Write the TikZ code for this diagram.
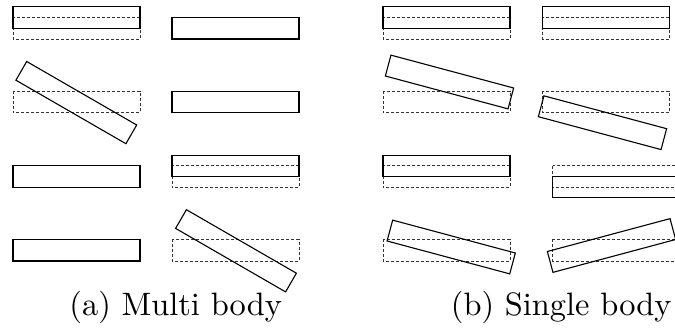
\documentclass[tikz,border=0pt]{standalone}
\usepackage{graphicx}
\begin{document}
\begin{tikzpicture}[x=1pt,y=-1pt,
  solidbox/.style={draw=black,line width=1.1pt},
  dashbox/.style={draw=black!80,line width=0.9pt,dash pattern=on 3pt off 2pt},
  caption/.style={inner sep=0pt,anchor=base}]
\useasboundingbox (0,0) rectangle (675,329);
\clip (0,0) rectangle (675,329);
\def\bw{63.5}\def\bh{10.8}
% ---------- panel (a) ----------
% row 1
\draw[dashbox,shift={(76.5,28.2)}] (-\bw,-\bh) rectangle (\bw,\bh);
\draw[solidbox,shift={(76.5,17.6)}] (-\bw,-\bh) rectangle (\bw,\bh);
\draw[solidbox,shift={(235.5,28.2)}] (-\bw,-\bh) rectangle (\bw,\bh);
% row 2
\draw[dashbox,shift={(76.5,102)}] (-\bw,-\bh) rectangle (\bw,\bh);
\draw[solidbox,shift={(76.3,102.6)},rotate=-30] (-\bw,-\bh) rectangle (\bw,\bh);
\draw[solidbox,shift={(235.5,102)}] (-\bw,-\bh) rectangle (\bw,\bh);
% row 3
\draw[solidbox,shift={(76.5,176.5)}] (-\bw,-\bh) rectangle (\bw,\bh);
\draw[dashbox,shift={(235.5,176.5)}] (-\bw,-\bh) rectangle (\bw,\bh);
\draw[solidbox,shift={(235.5,166)}] (-\bw,-\bh) rectangle (\bw,\bh);
% row 4
\draw[solidbox,shift={(76.5,250.2)}] (-\bw,-\bh) rectangle (\bw,\bh);
\draw[dashbox,shift={(235.5,250.2)}] (-\bw,-\bh) rectangle (\bw,\bh);
\draw[solidbox,shift={(236,250.8)},rotate=-30] (-\bw,-\bh) rectangle (\bw,\bh);
% ---------- panel (b) ----------
% row 1
\draw[dashbox,shift={(446.5,28.2)}] (-\bw,-\bh) rectangle (\bw,\bh);
\draw[solidbox,shift={(446.5,17.6)}] (-\bw,-\bh) rectangle (\bw,\bh);
\draw[dashbox,shift={(605.7,28.2)}] (-\bw,-\bh) rectangle (\bw,\bh);
\draw[solidbox,shift={(605.7,17.6)}] (-\bw,-\bh) rectangle (\bw,\bh);
% row 2
\draw[dashbox,shift={(446.5,102)}] (-\bw,-\bh) rectangle (\bw,\bh);
\draw[solidbox,shift={(449.5,82)},rotate=-15] (-\bw,-\bh) rectangle (\bw,\bh);
\draw[dashbox,shift={(605.7,102)}] (-\bw,-\bh) rectangle (\bw,\bh);
\draw[solidbox,shift={(602.5,122.7)},rotate=-15] (-\bw,-\bh) rectangle (\bw,\bh);
% row 3
\draw[dashbox,shift={(446.5,176.5)}] (-\bw,-\bh) rectangle (\bw,\bh);
\draw[solidbox,shift={(446.5,166)}] (-\bw,-\bh) rectangle (\bw,\bh);
\draw[dashbox,shift={(616.2,176.5)}] (-\bw,-\bh) rectangle (\bw,\bh);
\draw[solidbox,shift={(616.2,187.1)}] (-\bw,-\bh) rectangle (\bw,\bh);
% row 4
\draw[dashbox,shift={(446.5,250.2)}] (-\bw,-\bh) rectangle (\bw,\bh);
\draw[solidbox,shift={(451.2,247)},rotate=-15] (-\bw,-\bh) rectangle (\bw,\bh);
\draw[dashbox,shift={(616.2,250.2)}] (-\bw,-\bh) rectangle (\bw,\bh);
\draw[solidbox,shift={(611.5,245.5)},rotate=15] (-\bw,-\bh) rectangle (\bw,\bh);
% ---------- captions ----------
\node[caption] (capa) at (175.7,315) {\scalebox{3.24}{\fontsize{10}{12}\selectfont (a) Multi body}};
\node[caption] (capb) at (561.2,315) {\scalebox{3.24}{\fontsize{10}{12}\selectfont (b) Single body}};
\end{tikzpicture}
\end{document}
